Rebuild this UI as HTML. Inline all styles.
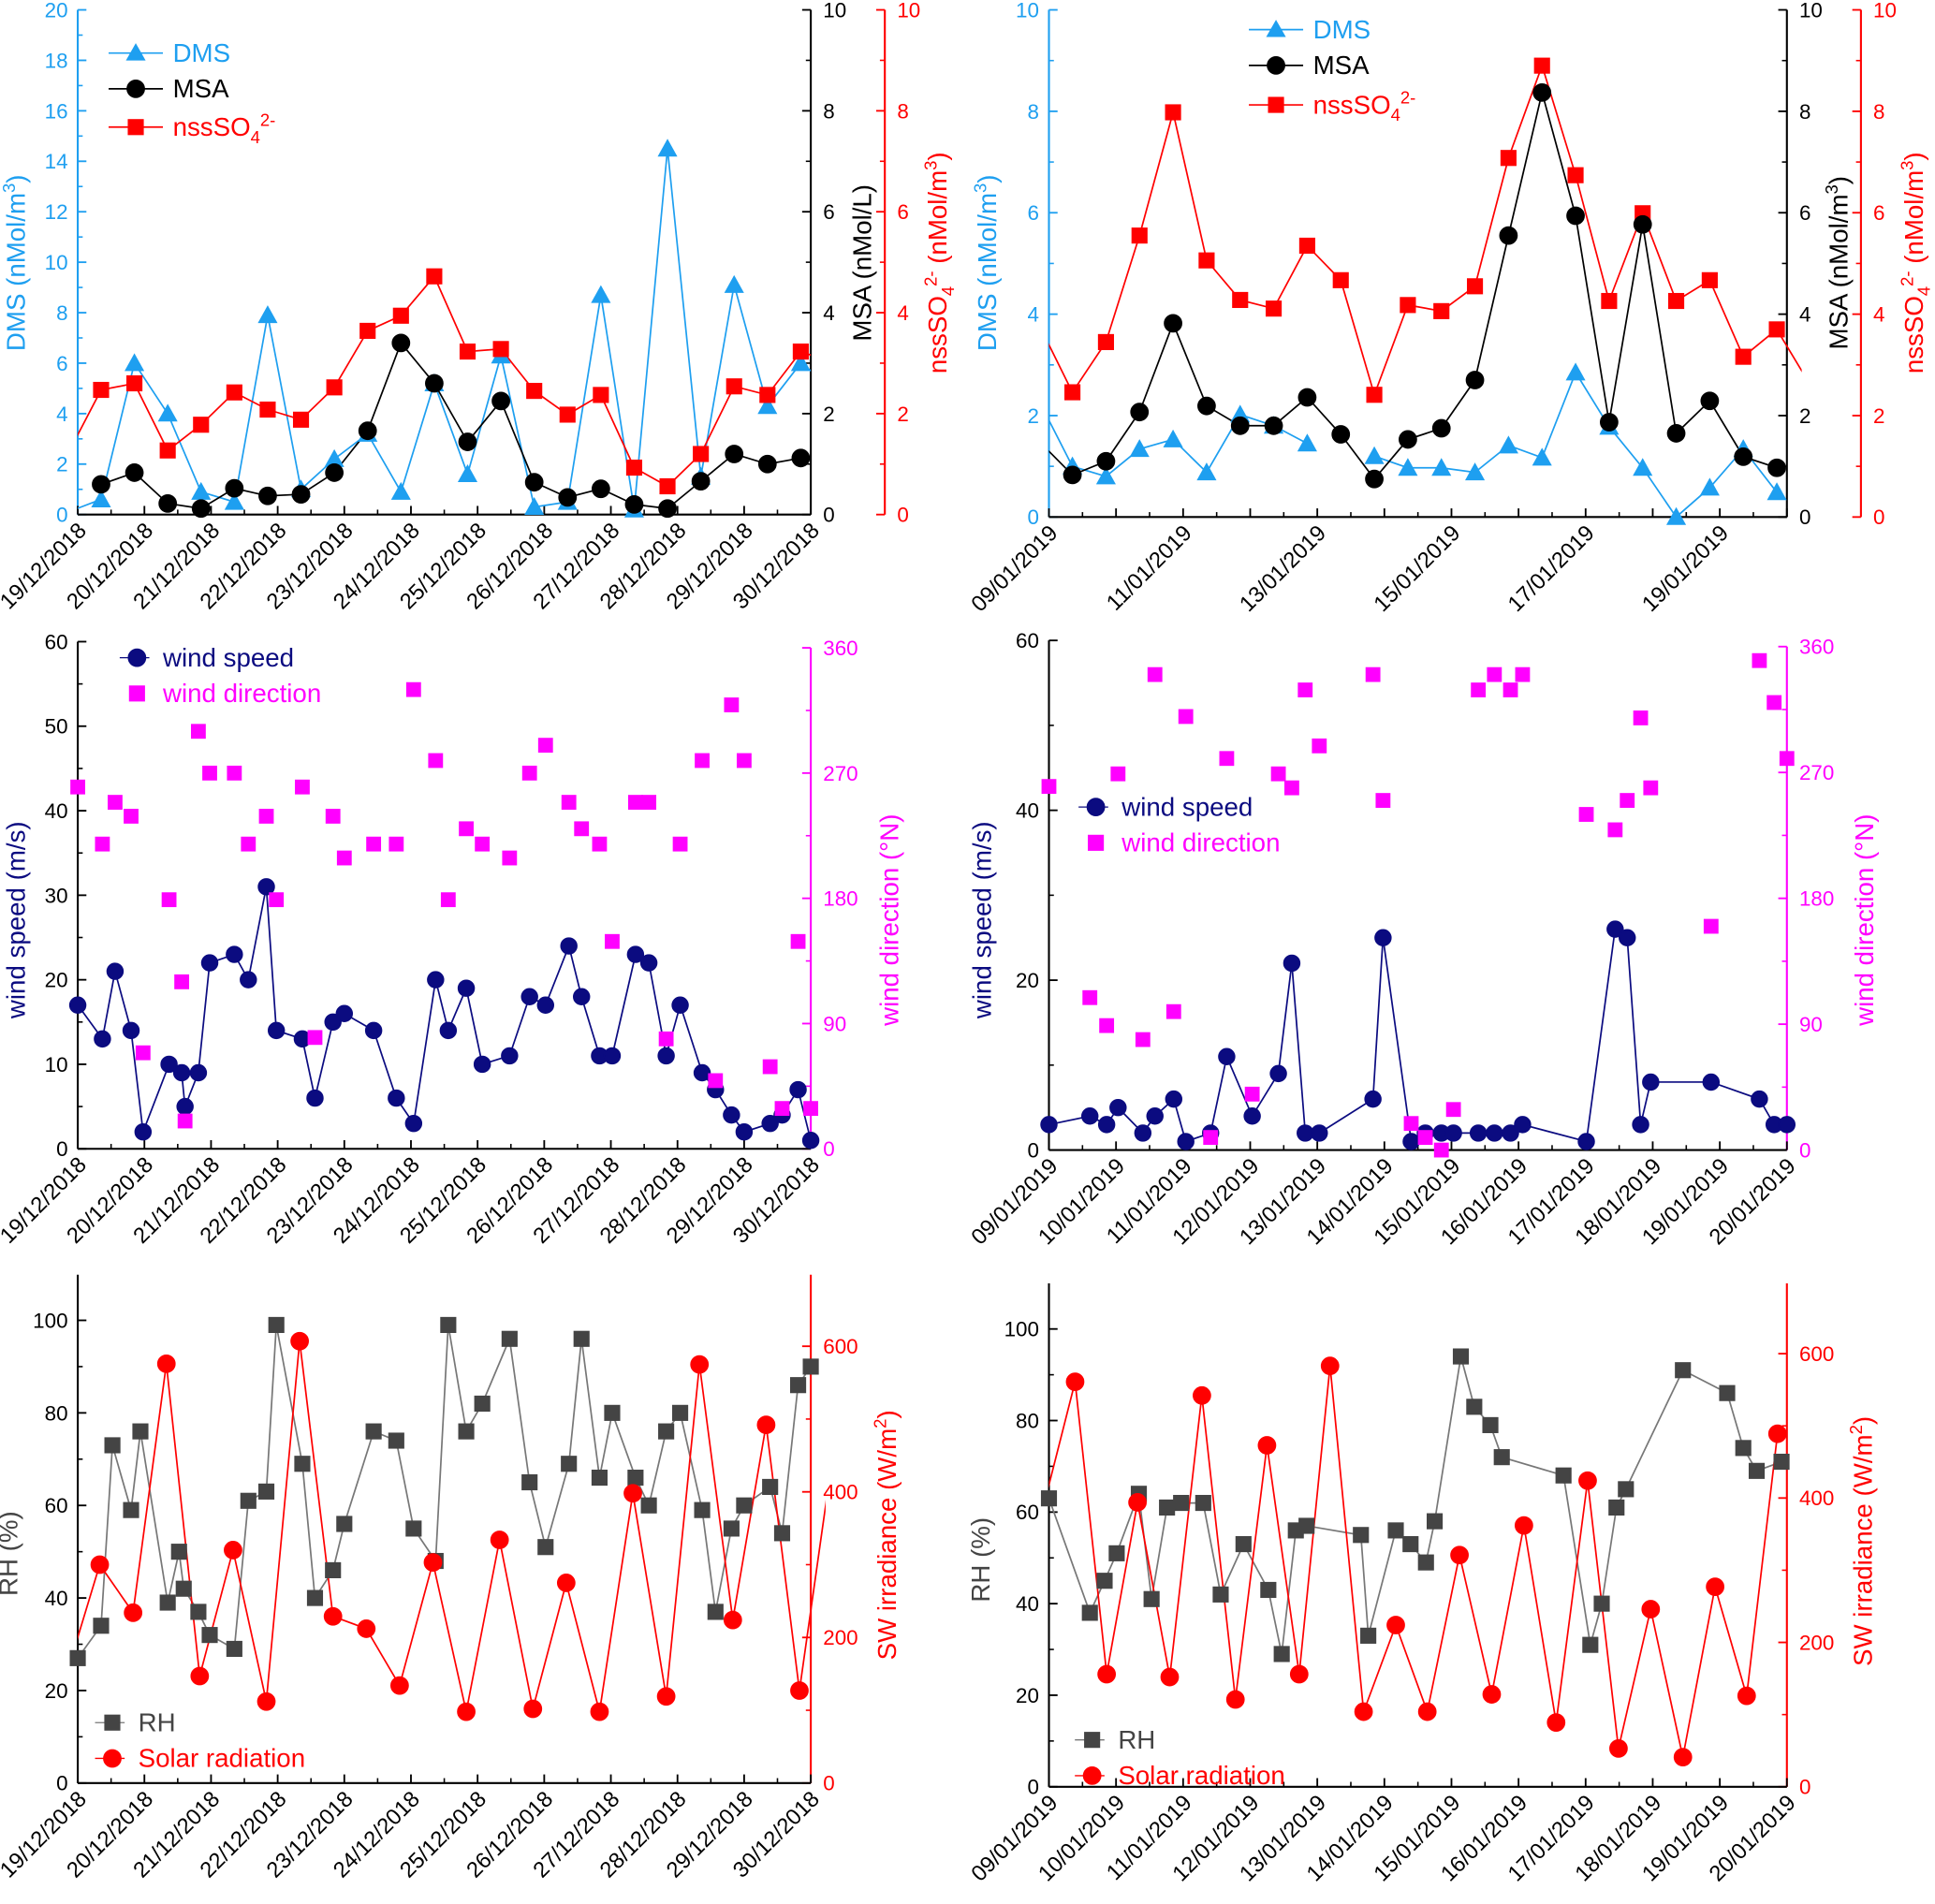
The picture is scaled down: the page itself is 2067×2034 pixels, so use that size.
<!DOCTYPE html>
<html><head><meta charset="utf-8"><title>DMS MSA nssSO4 wind RH charts</title>
<style>
html,body{margin:0;padding:0;background:#fff;}
svg{display:block;font-family:"Liberation Sans",Arial,sans-serif;}
</style></head>
<body>
<svg id="chart" xmlns="http://www.w3.org/2000/svg" width="2067" height="2034" viewBox="0 0 1568 1543"></svg>
<script>
// ---------- DATA ----------
const aTimes = [-0.15,0.35,0.85,1.35,1.85,2.35,2.85,3.35,3.85,4.35,4.85,5.35,5.85,6.35,6.85,7.35,7.85,8.35,8.85,9.35,9.85,10.35,10.85,11.35];
const aDMS  = [0.1,0.6,6.0,4.0,0.9,0.5,7.9,1.0,2.2,3.2,0.9,5.2,1.6,6.3,0.3,0.5,8.7,0.2,14.5,1.5,9.1,4.3,6.0,5.0];
const aMSA  = [null,0.6,0.83,0.22,0.12,0.52,0.37,0.4,0.83,1.66,3.4,2.6,1.44,2.25,0.64,0.34,0.51,0.2,0.12,0.66,1.2,1.0,1.12,null];
const aNSS  = [1.2,2.47,2.6,1.27,1.78,2.42,2.08,1.88,2.52,3.64,3.94,4.72,3.23,3.28,2.45,1.98,2.37,0.93,0.56,1.2,2.54,2.37,3.23,3.0];
const aDates = ["19/12/2018","20/12/2018","21/12/2018","22/12/2018","23/12/2018","24/12/2018","25/12/2018","26/12/2018","27/12/2018","28/12/2018","29/12/2018","30/12/2018"];
const bTimes = [-0.15,0.35,0.85,1.35,1.85,2.35,2.85,3.35,3.85,4.35,4.85,5.35,5.85,6.35,6.85,7.35,7.85,8.35,8.85,9.35,9.85,10.35,10.85,11.35];
const bDMS  = [2.3,1.0,0.8,1.34,1.53,0.88,2.02,1.8,1.45,null,1.2,0.97,0.97,0.88,1.41,1.17,2.85,1.78,0.97,0.0,0.58,1.34,0.49,null];
const bMSA  = [1.5,0.83,1.1,2.07,3.82,2.19,1.8,1.8,2.36,1.63,0.75,1.53,1.75,2.7,5.55,8.37,5.94,1.87,5.77,1.65,2.29,1.19,0.97,null];
const bNSS  = [3.8,2.46,3.45,5.55,7.98,5.06,4.28,4.11,5.35,4.67,2.41,4.18,4.06,4.55,7.08,8.9,6.74,4.26,5.99,4.26,4.67,3.16,3.7,2.6];
const bDates = ["09/01/2019","11/01/2019","13/01/2019","15/01/2019","17/01/2019","19/01/2019"];
const bDateDays = [0,2,4,6,8,10];
const cTimes = [0,0.37,0.56,0.8,0.98,1.37,1.56,1.61,1.81,1.98,2.35,2.56,2.83,2.98,3.37,3.56,3.83,4.0,4.44,4.78,5.04,5.37,5.56,5.83,6.07,6.48,6.78,7.02,7.37,7.56,7.83,8.02,8.37,8.57,8.83,9.04,9.37,9.57,9.81,10.0,10.39,10.57,10.81,11.0];
const cSpeed = [17,13,21,14,2,10,9,5,9,22,23,20,31,14,13,6,15,16,14,6,3,20,14,19,10,11,18,17,24,18,11,11,23,22,11,17,9,7,4,2,3,4,7,1];
const cDir = [260,219,249,239,69,179,120,20,300,270,270,219,239,179,260,80,239,209,219,219,330,279,179,230,219,209,270,290,249,230,219,149,249,249,79,219,279,49,319,279,59,29,149,29];
const dTimes = [0,0.61,0.86,1.03,1.4,1.58,1.86,2.04,2.41,2.65,3.03,3.42,3.62,3.82,4.03,4.83,4.98,5.4,5.61,5.85,6.03,6.4,6.64,6.88,7.06,8.01,8.44,8.62,8.82,8.97,9.87,10.59,10.81,11.0];
const dSpeed = [3,4,3,5,2,4,6,1,2,11,4,9,22,2,2,6,25,1,2,2,2,2,2,2,3,1,26,25,3,8,8,6,3,3];
const dDir = [260,109,89,269,79,340,99,310,9,280,40,269,259,329,289,340,250,19,9,0,29,329,340,329,340,240,229,250,309,259,160,350,320,280];
const janDates = ["09/01/2019","10/01/2019","11/01/2019","12/01/2019","13/01/2019","14/01/2019","15/01/2019","16/01/2019","17/01/2019","18/01/2019","19/01/2019","20/01/2019"];
const eRHTimes = [0,0.35,0.52,0.8,0.94,1.35,1.52,1.59,1.81,1.98,2.35,2.56,2.83,2.98,3.37,3.56,3.83,4.0,4.44,4.78,5.04,5.37,5.56,5.83,6.07,6.48,6.78,7.02,7.37,7.56,7.83,8.02,8.37,8.57,8.83,9.04,9.37,9.57,9.81,10.0,10.39,10.57,10.81,11.0];
const eRH = [27,34,73,59,76,39,50,42,37,32,29,61,63,99,69,40,46,56,76,74,55,48,99,76,82,96,65,51,69,96,66,80,66,60,76,80,59,37,55,60,64,54,86,90];
const eSolTimes = [-0.1,0.33,0.83,1.33,1.83,2.33,2.83,3.33,3.83,4.33,4.83,5.33,5.83,6.33,6.83,7.33,7.83,8.33,8.83,9.33,9.83,10.33,10.83,11.33];
const eSol = [170,300,234,576,147,320,112,607,229,212,134,303,98,334,102,275,98,398,119,575,224,492,127,450];
const fRHTimes = [0,0.61,0.83,1.01,1.34,1.53,1.76,1.97,2.3,2.56,2.9,3.27,3.47,3.68,3.84,4.65,4.76,5.17,5.39,5.62,5.75,6.14,6.34,6.58,6.75,7.67,8.07,8.24,8.46,8.6,9.45,10.11,10.35,10.55,10.92];
const fRH = [63,38,45,51,64,41,61,62,62,42,53,43,29,56,57,55,33,56,53,49,58,94,83,79,72,68,31,40,61,65,91,86,74,69,71];
const fSolTimes = [-0.05,0.39,0.86,1.32,1.8,2.28,2.78,3.25,3.73,4.19,4.69,5.17,5.64,6.12,6.6,7.08,7.56,8.03,8.49,8.97,9.45,9.93,10.4,10.86];
const fSol = [400,561,156,394,152,542,121,473,156,583,104,224,104,321,128,362,89,424,53,246,41,277,126,489];

// ---------- DRAWING ----------
const NS = "http://www.w3.org/2000/svg";
const svg = document.getElementById("chart");
const BLUE = "#1e9ff0", RED = "#ff0000", MAG = "#ff00ff", NAVY = "#0b0b80", GREY = "#444";
function mk(tag, attrs, parent) {
  const e = document.createElementNS(NS, tag);
  for (const k in attrs) e.setAttribute(k, attrs[k]);
  (parent || svg).appendChild(e);
  return e;
}
function lin(v0, v1, p0, p1) { return v => p0 + (v - v0) / (v1 - v0) * (p1 - p0); }

let clipN = 0;
function makeClip(x0, x1, y0, y1) {
  const id = "clip" + (clipN++);
  const cp = mk("clipPath", { id: id });
  mk("rect", { x: x0, y: y0, width: x1 - x0, height: y1 - y0 }, cp);
  return id;
}

function yAxis(g, x, yb, ytop, scale, vmin, vmax, step, color, side, name, axisTop) {
  const ax = mk("line", { x1: x, y1: yb, x2: x, y2: axisTop, stroke: color, "stroke-width": 1.6 }, g);
  
  
  const dir = side === "left" ? 1 : -1;
  for (let v = vmin; v <= vmax + 1e-9; v += step) {
    const y = scale(v);
    mk("line", { x1: x, y1: y, x2: x + dir * 7, y2: y, stroke: color, "stroke-width": 1.4 }, g);
    const half = v + step / 2;
    if (half < vmax && scale(half) >= axisTop) mk("line", { x1: x, y1: scale(half), x2: x + dir * 4, y2: scale(half), stroke: color, "stroke-width": 1.2 }, g);
    const t = mk("text", { x: side === "left" ? x - 8 : x + 10, y: y + 6, "font-size": 17, fill: color, "text-anchor": side === "left" ? "end" : "start" }, g);
    t.textContent = String(v);
    
    
  }
}
function yTitle(g, x, y, color, parts, name) {
  const t = mk("text", { x: 0, y: 0, "font-size": 21, fill: color, "text-anchor": "middle", transform: `translate(${x},${y}) rotate(-90)` }, g);
  
  
  parts.forEach(p => {
    const s = mk("tspan", {}, t);
    if (p.dy) s.setAttribute("dy", p.dy);
    if (p.fs) s.setAttribute("font-size", p.fs);
    s.textContent = p.t;
  });
}
function xAxis(g, x0, x1, yb, xs, ndays, labels, labelDays, name) {
  const ax = mk("line", { x1: x0, y1: yb, x2: x1, y2: yb, stroke: "#000", "stroke-width": 1.6 }, g);
  
  
  for (let d = 0; d <= ndays; d++) {
    mk("line", { x1: xs(d), y1: yb, x2: xs(d), y2: yb - 7, stroke: "#000", "stroke-width": 1.4 }, g);
    if (d < ndays) mk("line", { x1: xs(d + 0.5), y1: yb, x2: xs(d + 0.5), y2: yb - 4, stroke: "#000", "stroke-width": 1.2 }, g);
  }
  labels.forEach((lab, i) => {
    const x = xs(labelDays[i]);
    const t = mk("text", { x: 0, y: 0, "font-size": 18, "text-anchor": "end", transform: `translate(${x + 8},${yb + 14}) rotate(-45)` }, g);
    t.textContent = lab;
    
    
  });
}
function series(g, times, vals, xs, ys, color, clip, connect, name) {
  if (connect) {
    let d = "", pen = false;
    times.forEach((t, i) => {
      if (vals[i] === null) { pen = false; return; }
      d += (pen ? "L" : "M") + xs(t).toFixed(1) + "," + ys(vals[i]).toFixed(1);
      pen = true;
    });
    const p = mk("path", { d: d, fill: "none", stroke: color, "stroke-width": 1.3, "clip-path": `url(#${clip})` }, g);
    
    
  }
}
function markers(g, times, vals, xs, ys, color, shape, r, x0, x1, name, stroke) {
  times.forEach((t, i) => {
    if (vals[i] === null) return;
    const x = xs(t), y = ys(vals[i]);
    if (x < x0 - 1 || x > x1 + 1) return;
    let m;
    if (shape === "circle") m = mk("circle", { cx: x, cy: y, r: r, fill: color, stroke: stroke || "#000", "stroke-width": 1 }, g);
    else if (shape === "square") m = mk("rect", { x: x - r, y: y - r, width: 2 * r, height: 2 * r, fill: color, stroke: stroke || "none", "stroke-width": 1 }, g);
    else m = mk("polygon", { points: `${x},${y - r} ${x - r},${y + r * 0.8} ${x + r},${y + r * 0.8}`, fill: color, stroke: stroke || "none" }, g);
    
    
  });
}
function legendItem(g, x, y, color, shape, label, withLine, name, parts, mstroke) {
  if (withLine) mk("line", { x1: x - 22, y1: y, x2: x + 22, y2: y, stroke: color, "stroke-width": 1.3 }, g);
  if (shape === "circle") mk("circle", { cx: x, cy: y, r: 7, fill: color, stroke: mstroke || "#000" }, g);
  else if (shape === "square") mk("rect", { x: x - 6.5, y: y - 6.5, width: 13, height: 13, fill: color }, g);
  else mk("polygon", { points: `${x},${y - 8} ${x - 8},${y + 6} ${x + 8},${y + 6}`, fill: color }, g);
  const t = mk("text", { x: x + (withLine ? 30 : 21), y: y + 7, "font-size": 21, fill: color }, g);
  
  
  if (parts) parts.forEach(p => { const s = mk("tspan", {}, t); if (p.dy) s.setAttribute("dy", p.dy); if (p.fs) s.setAttribute("font-size", p.fs); s.textContent = p.t; });
  else t.textContent = label;
}
const nssParts = [{ t: "nssSO" }, { t: "4", dy: 6, fs: 14 }, { t: "2-", dy: -14, fs: 14 }];

// ---- Panel A ----
(function () {
  const g = mk("g", {});  
  const x0 = 63, x1 = 657, yb = 417, yt = 8;
  const xs = lin(0, 11, x0, x1), yL = lin(0, 20, yb, yt), yR = lin(0, 10, yb, yt);
  const clip = makeClip(x0, x1, 0, 440);
  yAxis(g, x0, yb, yt, yL, 0, 20, 2, BLUE, "left", "dms-axis", yt);
  yAxis(g, x1, yb, yt, yR, 0, 10, 2, "#000", "right", "msa-axis", yt);
  yAxis(g, 717, yb, yt, yR, 0, 10, 2, RED, "right", "nss-axis", yt);
  xAxis(g, x0, x1, yb, xs, 11, aDates, aDates.map((_, i) => i), "panel-a-x");
  yTitle(g, 20, 213, BLUE, [{ t: "DMS (nMol/m" }, { t: "3", dy: -8, fs: 14 }, { t: ")", dy: 8 }], "dms-axis-title");
  yTitle(g, 706, 213, "#000", [{ t: "MSA (nMol/L)" }], "msa-axis-title");
  yTitle(g, 767, 213, RED, [{ t: "nssSO" }, { t: "4", dy: 6, fs: 14 }, { t: "2-", dy: -14, fs: 14 }, { t: " (nMol/m", dy: 8 }, { t: "3", dy: -8, fs: 14 }, { t: ")", dy: 8 }], "nss-axis-title");
  series(g, aTimes, aDMS, xs, yL, BLUE, clip, true, "dms");
  series(g, aTimes, aNSS, xs, yR, RED, clip, true, "nss");
  series(g, aTimes, aMSA, xs, yR, "#000", clip, true, "msa");
  markers(g, aTimes, aDMS, xs, yL, BLUE, "tri", 8, x0, x1, "dms");
  markers(g, aTimes, aNSS, xs, yR, RED, "square", 6.5, x0, x1, "nss");
  markers(g, aTimes, aMSA, xs, yR, "#000", "circle", 7, x0, x1, "msa");
  legendItem(g, 110, 43, BLUE, "tri", "DMS", true, "legend-dms");
  legendItem(g, 110, 72, "#000", "circle", "MSA", true, "legend-msa");
  legendItem(g, 110, 103, RED, "square", "", true, "legend-nss", nssParts);
})();

// ---- Panel B ----
(function () {
  const g = mk("g", {});  
  const x0 = 850, x1 = 1448, yb = 419, yt = 8;
  const xs = lin(0, 11, x0, x1), yL = lin(0, 10, yb, yt), yR = lin(0, 10, yb, yt);
  const clip = makeClip(x0, x1 + 12, 0, 440);
  yAxis(g, x0, yb, yt, yL, 0, 10, 2, BLUE, "left", "dms-axis-b", yt);
  yAxis(g, x1, yb, yt, yR, 0, 10, 2, "#000", "right", "msa-axis-b", yt);
  yAxis(g, 1508, yb, yt, yR, 0, 10, 2, RED, "right", "nss-axis-b", yt);
  xAxis(g, x0, x1, yb, xs, 11, bDates, bDateDays, "panel-b-x");
  yTitle(g, 807, 213, BLUE, [{ t: "DMS (nMol/m" }, { t: "3", dy: -8, fs: 14 }, { t: ")", dy: 8 }], "dms-axis-title-b");
  yTitle(g, 1497, 213, "#000", [{ t: "MSA (nMol/m" }, { t: "3", dy: -8, fs: 14 }, { t: ")", dy: 8 }], "msa-axis-title-b");
  yTitle(g, 1558, 213, RED, [{ t: "nssSO" }, { t: "4", dy: 6, fs: 14 }, { t: "2-", dy: -14, fs: 14 }, { t: " (nMol/m", dy: 8 }, { t: "3", dy: -8, fs: 14 }, { t: ")", dy: 8 }], "nss-axis-title-b");
  series(g, bTimes, bDMS, xs, yL, BLUE, clip, true, "dms-b");
  series(g, bTimes, bNSS, xs, yR, RED, clip, true, "nss-b");
  series(g, bTimes, bMSA, xs, yR, "#000", clip, true, "msa-b");
  markers(g, bTimes, bDMS, xs, yL, BLUE, "tri", 8, x0, x1, "dms-b");
  markers(g, bTimes, bNSS, xs, yR, RED, "square", 6.5, x0, x1, "nss-b");
  markers(g, bTimes, bMSA, xs, yR, "#000", "circle", 7, x0, x1, "msa-b");
  legendItem(g, 1034, 24, BLUE, "tri", "DMS", true, "legend-dms-b");
  legendItem(g, 1034, 53, "#000", "circle", "MSA", true, "legend-msa-b");
  legendItem(g, 1034, 85, RED, "square", "", true, "legend-nss-b", nssParts);
})();

// ---- Wind panels ----
function windPanel(name, x0, x1, yb, ytL, ytR, times, spd, dirs, dates, legX, legY, titleLX, titleRX, spdStep) {
  const g = mk("g", {});  
  const xs = lin(0, 11, x0, x1), yL = lin(0, 60, yb, ytL), yR = lin(0, 360, yb, ytR);
  const clip = makeClip(x0 - 10, x1 + 10, ytL - 10, yb + 10);
  yAxis(g, x0, yb, ytL, yL, 0, 60, spdStep, "#000", "left", name + "-speed-axis", ytL);
  yAxis(g, x1, yb, ytR, yR, 0, 360, 90, MAG, "right", name + "-dir-axis", ytR);
  xAxis(g, x0, x1, yb, xs, 11, dates, dates.map((_, i) => i), name + "-x");
  yTitle(g, titleLX, (yb + ytL) / 2 + 20, NAVY, [{ t: "wind speed (m/s)" }], name + "-speed-title");
  yTitle(g, titleRX, (yb + ytL) / 2 + 20, MAG, [{ t: "wind direction (°N)" }], name + "-dir-title");
  series(g, times, spd, xs, yL, NAVY, clip, true, name + "-speed");
  markers(g, times, spd, xs, yL, NAVY, "circle", 6.5, x0 - 2, x1 + 2, name + "-speed", NAVY);
  markers(g, times, dirs, xs, yR, MAG, "square", 6, x0 - 2, x1 + 2, name + "-dir");
  mk("line", { x1: legX - 14, y1: legY, x2: legX + 10, y2: legY, stroke: NAVY, "stroke-width": 1 }, g);
  legendItem(g, legX, legY, NAVY, "circle", "wind speed", false, name + "-legend-speed", null, NAVY);
  legendItem(g, legX, legY + 29, MAG, "square", "wind direction", false, name + "-legend-dir");
}
windPanel("panel-c-wind-dec", 63, 657, 931, 520, 525, cTimes, cSpeed, cDir, aDates, 111, 533, 20, 728, 10);
windPanel("panel-d-wind-jan", 850, 1448, 932, 519, 524, dTimes, dSpeed, dDir, janDates, 888, 654, 803, 1518, 20);

// ---- RH panels ----
function rhPanel(name, x0, x1, yb, y100, y600, axisTop, rhT, rh, solT, sol, dates, legX, legY, titleLX, titleRX) {
  const g = mk("g", {});  
  const xs = lin(0, 11, x0, x1), yL = lin(0, 100, yb, y100), yR = lin(0, 600, yb, y600);
  const clip = makeClip(x0, x1 + 12, axisTop - 10, yb + 5);
  yAxis(g, x0, yb, y100, yL, 0, 100, 20, "#000", "left", name + "-rh-axis", axisTop);
  yAxis(g, x1, yb, y600, yR, 0, 600, 200, RED, "right", name + "-sw-axis", axisTop);
  xAxis(g, x0, x1, yb, xs, 11, dates, dates.map((_, i) => i), name + "-x");
  yTitle(g, titleLX, (yb + axisTop) / 2 + 20, GREY, [{ t: "RH (%)" }], name + "-rh-title");
  yTitle(g, titleRX, (yb + axisTop) / 2 + 5, RED, [{ t: "SW irradiance (W/m" }, { t: "2", dy: -8, fs: 14 }, { t: ")", dy: 8 }], name + "-sw-title");
  series(g, rhT, rh, xs, yL, "#777", clip, true, name + "-rh");
  series(g, solT, sol, xs, yR, RED, clip, true, name + "-solar");
  markers(g, rhT, rh, xs, yL, GREY, "square", 6.5, x0 - 1, x1 + 1, name + "-rh");
  markers(g, solT, sol, xs, yR, RED, "circle", 7, x0 - 1, x1 + 1, name + "-solar", RED);
  mk("line", { x1: legX - 14, y1: legY, x2: legX + 10, y2: legY, stroke: "#777", "stroke-width": 1 }, g);
  legendItem(g, legX, legY, GREY, "square", "RH", false, name + "-legend-rh");
  mk("line", { x1: legX - 14, y1: legY + 29, x2: legX + 10, y2: legY + 29, stroke: RED, "stroke-width": 1 }, g);
  legendItem(g, legX, legY + 29, RED, "circle", "Solar radiation", false, name + "-legend-solar", null, RED);
}
rhPanel("panel-e-rh-dec", 63, 657, 1445, 1070, 1091, 1033, eRHTimes, eRH, eSolTimes, eSol, aDates, 91, 1396, 14, 726);
rhPanel("panel-f-rh-jan", 850, 1448, 1448, 1077, 1097, 1040, fRHTimes, fRH, fSolTimes, fSol, janDates, 885, 1410, 802, 1517);
</script>
</body></html>
